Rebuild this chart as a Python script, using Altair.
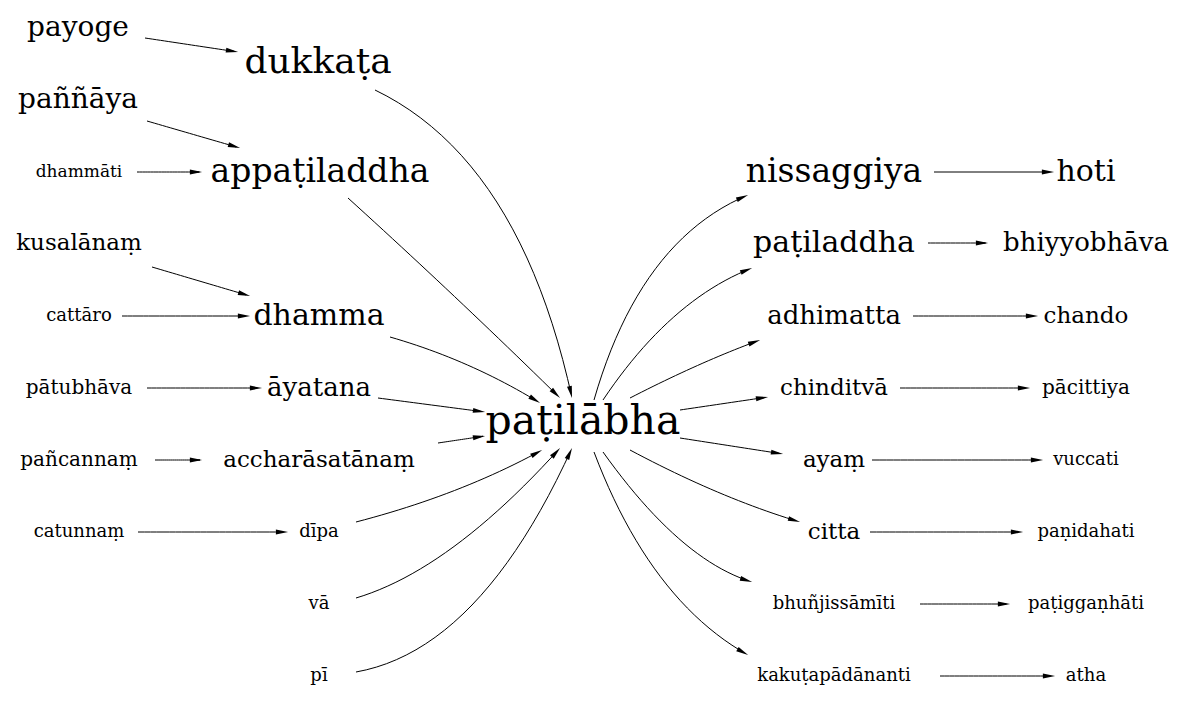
import math
import pandas as pd
import altair as alt

# node labels, centre positions (picture px) and font sizes
labels = ["payoge", "dukkaṭa", "paññāya", "dhammāti", "appaṭiladdha", "kusalānaṃ", "cattāro",
          "dhamma", "pātubhāva", "āyatana", "pañcannaṃ", "accharāsatānaṃ", "catunnaṃ", "dīpa",
          "vā", "pī", "paṭilābha", "nissaggiya", "paṭiladdha", "adhimatta", "chinditvā", "ayaṃ",
          "citta", "bhuñjissāmīti", "kakuṭapādānanti", "hoti", "bhiyyobhāva", "chando",
          "pācittiya", "vuccati", "paṇidahati", "paṭiggaṇhāti", "atha"]
node_x = [78, 318, 78, 79, 320, 79, 79, 319, 79, 319, 79, 319, 79, 319, 319, 319, 583,
          834, 834, 834, 834, 834, 834, 834, 834, 1086, 1086, 1086, 1086, 1086, 1086, 1086, 1086]
node_y = [28, 62, 100, 172, 172, 243, 316, 316, 388, 388, 460, 460, 532, 532, 604, 676, 422,
          172, 243, 316, 388, 460, 532, 604, 676, 172, 243, 316, 388, 460, 532, 604, 676]
font_size = [28, 36, 28, 17, 33, 23, 18, 30, 20, 26, 20, 23, 18, 18, 18, 18, 41,
             33, 30, 26, 23, 23, 23, 18, 18, 30, 26, 23, 20, 18, 18, 18, 18]

# edges: start, end, control point (control None = straight)
edges = [
    (375, 90, 572, 398, 520, 160), (348, 198, 560, 398, 455, 295),
    (390, 337, 540, 403, 470, 360), (378, 398, 485, 412, None, None),
    (438, 443, 485, 436, None, None), (356, 522, 542, 450, 460, 495),
    (356, 598, 560, 448, 450, 570), (356, 672, 572, 448, 480, 650),
    (594, 400, 748, 195, 640, 240), (603, 400, 752, 268, 670, 300),
    (630, 398, 760, 340, 700, 362), (680, 410, 768, 397, None, None),
    (680, 438, 783, 454, None, None), (630, 450, 800, 522, 720, 498),
    (603, 452, 752, 582, 680, 560), (594, 452, 748, 655, 650, 600),
    (145, 38, 238, 52, None, None), (147, 121, 240, 148, None, None),
    (137, 172, 202, 172, None, None), (152, 267, 250, 296, None, None),
    (122, 316, 250, 316, None, None), (147, 388, 262, 388, None, None),
    (155, 460, 202, 460, None, None), (138, 532, 288, 532, None, None),
    (934, 172, 1054, 172, None, None), (928, 243, 988, 243, None, None),
    (913, 316, 1038, 316, None, None), (900, 388, 1030, 388, None, None),
    (872, 460, 1043, 460, None, None), (870, 532, 1023, 532, None, None),
    (920, 604, 1010, 604, None, None), (940, 676, 1055, 676, None, None),
]

line_rows, head_rows = [], []
for i, (x1, y1, x2, y2, cx, cy) in enumerate(edges):
    if cx is None:
        cx, cy = (x1 + x2) / 2, (y1 + y2) / 2
    dx, dy = x2 - cx, y2 - cy
    d = math.hypot(dx, dy)
    steps = 24
    for k in range(steps + 1):
        t = k / steps
        px = (1 - t) ** 2 * x1 + 2 * (1 - t) * t * cx + t ** 2 * x2
        py = (1 - t) ** 2 * y1 + 2 * (1 - t) * t * cy + t ** 2 * y2
        if k == steps:
            px, py = x2 - 8 * dx / d, y2 - 8 * dy / d
        line_rows.append({"e": i, "k": k, "x": px, "y": py})
    ang = math.degrees(math.atan2(dx, -dy)) % 360
    head_rows.append({"x": x2 - 6 * dx / d, "y": y2 - 6 * dy / d, "a": ang})

nodes = pd.DataFrame({"label": labels, "x": node_x, "y": node_y, "s": font_size})
xs = alt.Scale(domain=[8, 1183])
ys = alt.Scale(domain=[8, 699], reverse=True)

lines = alt.Chart(pd.DataFrame(line_rows)).mark_line(color="black", strokeWidth=1).encode(
    x=alt.X("x:Q", scale=xs, axis=None), y=alt.Y("y:Q", scale=ys, axis=None),
    detail="e:N", order="k:Q")
heads = alt.Chart(pd.DataFrame(head_rows)).mark_point(
    shape="M-0.4,1L0,-1L0.4,1Z", filled=True, color="black", opacity=1, size=150).encode(
    x=alt.X("x:Q", scale=xs), y=alt.Y("y:Q", scale=ys), angle=alt.Angle("a:Q", scale=None))
text = alt.Chart(nodes).mark_text(font="DejaVu Serif", color="black").encode(
    x=alt.X("x:Q", scale=xs), y=alt.Y("y:Q", scale=ys),
    text="label:N", size=alt.Size("s:Q", scale=None))

chart = (lines + heads + text).properties(
    width=1175, height=691, padding=0, autosize="none"
).configure_view(stroke=None)
chart.save("out.html", embed_options={"renderer": "svg", "actions": False})
